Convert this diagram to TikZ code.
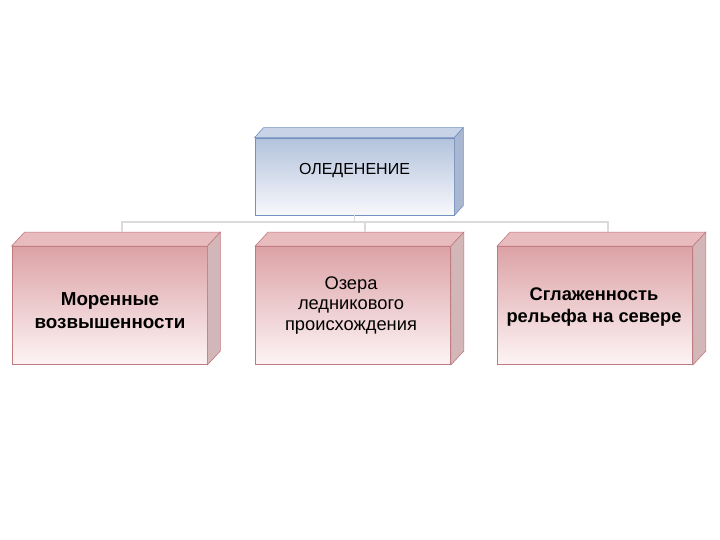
\documentclass[tikz,border=0pt]{standalone}
\usepackage{fontspec}
\setmainfont{Liberation Sans}
\usetikzlibrary{calc}
\definecolor{bluetop}{HTML}{B3C2DD}
\definecolor{bluebot}{HTML}{F7F8FB}
\definecolor{blueedge}{HTML}{7391C0}
\definecolor{bluetopface}{HTML}{C9D3E7}
\definecolor{bluesideface}{HTML}{A9B7D0}
\definecolor{pinktop}{HTML}{DCA2A6}
\definecolor{pinkbot}{HTML}{FDF4F5}
\definecolor{pinkedge}{HTML}{BF7A7E}
\definecolor{pinktopface}{HTML}{E8BBBE}
\definecolor{pinksideface}{HTML}{D3B6B8}
\definecolor{connc}{HTML}{DADADA}
\tikzset{
  bluebox/.style={draw=blueedge, line width=0.8pt, top color=bluetop, bottom color=bluebot, inner sep=0pt, align=center},
  pinkbox/.style={draw=pinkedge, line width=0.8pt, top color=pinktop, bottom color=pinkbot, inner sep=0pt, align=center, minimum width=195pt, minimum height=118pt},
  conn/.style={draw=connc, line width=1.6pt},
}
\begin{document}
\begin{tikzpicture}[x=1pt,y=-1pt]
\path[fill=white] (0,0) rectangle (720,540);
\useasboundingbox (0,0) rectangle (720,540);
% top box
\node[bluebox, minimum width=199pt, minimum height=77pt] (top) at (354.5,176.5) {};
\node[font=\fontsize{16}{19}\selectfont] (toptxt) at (354.5,171) {ОЛЕДЕНЕНИЕ};
\fill[bluetopface, draw=blueedge, line width=0.6pt] (top.north west) -- ++(9,-10) -- ([shift={(9,-10)}]top.north east) -- (top.north east) -- cycle;
\fill[bluesideface, draw=blueedge, line width=0.6pt] (top.north east) -- ++(9,-10) -- ([shift={(9,-10)}]top.south east) -- (top.south east) -- cycle;
% lower boxes
\node[pinkbox] (bl) at (109.5,305.5) {};
\node[pinkbox] (bm) at (353,305.5) {};
\node[pinkbox] (br) at (595,305.5) {};
\foreach \n in {bl,bm,br}{
  \fill[pinktopface, draw=pinkedge, line width=0.6pt] (\n.north west) -- ++(13,-14) -- ([shift={(13,-14)}]\n.north east) -- (\n.north east) -- cycle;
  \fill[pinksideface, draw=pinkedge, line width=0.6pt] (\n.north east) -- ++(13,-14) -- ([shift={(13,-14)}]\n.south east) -- (\n.south east) -- cycle;
}
\node[align=center, font=\bfseries\fontsize{18.8}{23}\selectfont] (tl) at (110,311) {Моренные\\возвышенности};
\node[align=center, font=\fontsize{18.3}{20.5}\selectfont] (tm) at (351,305.5) {Озера\\ледникового\\происхождения};
\node[align=center, font=\bfseries\fontsize{18.3}{22}\selectfont] (tr) at (594,307) {Сглаженность\\рельефа на севере};
% connectors
\coordinate (cl) at (122,232);
\coordinate (cm) at (365,232);
\coordinate (cr) at (608,232);
\draw[conn] (top.south) -- ++(0,7);
\draw[conn] (cl) -- ++(0,-10) -| (cr);
\draw[conn] (cm) -- ++(0,-10);
\end{tikzpicture}
\end{document}
